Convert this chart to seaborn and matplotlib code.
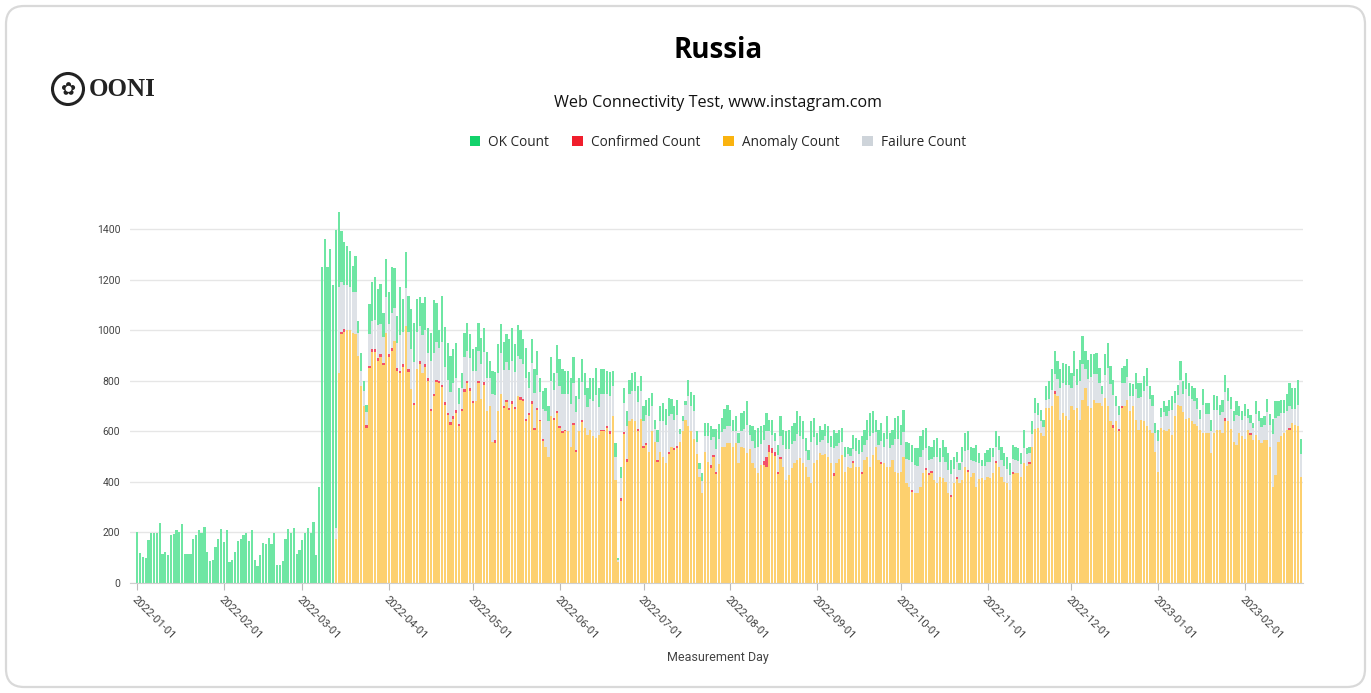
import numpy as np
import pandas as pd
import matplotlib
matplotlib.use("Agg")
import matplotlib.pyplot as plt
import matplotlib.transforms as mtransforms
from matplotlib.patches import FancyBboxPatch, Patch, Circle
import seaborn as sns

# ---------------- data ----------------
start_date = "2022-01-01"

ok_count = [
    200, 117, 103, 97, 172, 199, 199,
    196, 236, 114, 123, 110, 189, 192,
    209, 203, 233, 113, 113, 113, 176,
    189, 209, 196, 222, 123, 87, 93,
    143, 176, 212, 163, 209, 83, 90,
    123, 167, 176, 189, 196, 167, 209,
    93, 66, 110, 159, 156, 180, 154,
    196, 70, 70, 87, 176, 212, 196,
    216, 114, 132, 170, 199, 216, 196,
    242, 110, 379, 1250, 1360, 1250, 1320,
    1180, 1180, 300, 205, 170, 155, 145,
    105, 145, 45, 70, 40, 30, 120,
    155, 170, 143, 158, 98, 152, 125,
    180, 160, 107, 190, 128, 142, 141,
    157, 157, 128, 112, 128, 130, 100,
    110, 210, 155, 70, 180, 160, 147,
    144, 135, 137, 60, 60, 94, 110,
    95, 85, 95, 110, 102, 95, 105,
    70, 90, 89, 115, 115, 113, 110,
    122, 131, 108, 120, 114, 100, 120,
    62, 96, 92, 97, 54, 70, 90,
    60, 95, 67, 110, 105, 95, 93,
    90, 100, 102, 63, 80, 89, 87,
    73, 83, 90, 107, 73, 98, 98,
    90, 95, 58, 57, 7, 45, 60,
    60, 55, 70, 75, 60, 60, 57,
    62, 72, 52, 36, 48, 60, 72,
    66, 72, 60, 56, 62, 20, 20,
    13, 65, 55, 65, 40, 23, 30,
    53, 53, 53, 33, 79, 60, 55,
    80, 85, 65, 45, 60, 40, 70,
    70, 95, 40, 60, 70, 75, 70,
    60, 70, 45, 60, 30, 40, 80,
    60, 70, 75, 70, 70, 90, 80,
    70, 50, 40, 80, 75, 45, 60,
    40, 50, 65, 40, 70, 50, 50,
    55, 40, 30, 30, 55, 50, 55,
    60, 60, 80, 90, 85, 50, 60,
    70, 55, 90, 60, 60, 85, 90,
    80, 90, 70, 65, 70, 65, 70,
    80, 80, 80, 55, 50, 70, 75,
    55, 70, 60, 65, 55, 50, 40,
    25, 60, 70, 75, 55, 50, 70,
    40, 25, 50, 50, 55, 35, 60,
    55, 55, 50, 50, 45, 55, 55,
    50, 45, 70, 25, 25, 50, 60,
    50, 45, 30, 55, 70, 80, 90,
    70, 75, 80, 80, 75, 60, 100,
    60, 85, 110, 70, 75, 90, 80,
    85, 60, 30, 80, 100, 70, 60,
    40, 35, 60, 65, 70, 50, 45,
    65, 60, 55, 60, 70, 50, 45,
    40, 45, 35, 45, 40, 45, 55,
    45, 40, 75, 50, 65, 50, 50,
    50, 45, 35, 60, 45, 45, 45,
    60, 55, 40, 50, 70, 50, 45,
    40, 55, 40, 35, 50, 35, 30,
    20, 50, 40, 35, 35, 55, 45,
    60, 70, 60, 55, 55, 70, 90,
    80, 85, 100, 60,
]

anomaly_count = [
    0, 0, 0, 0, 0, 0, 0,
    0, 0, 0, 0, 0, 0, 0,
    0, 0, 0, 0, 0, 0, 0,
    0, 0, 0, 0, 0, 0, 0,
    0, 0, 0, 0, 0, 0, 0,
    0, 0, 0, 0, 0, 0, 0,
    0, 0, 0, 0, 0, 0, 0,
    0, 0, 0, 0, 0, 0, 0,
    0, 0, 0, 0, 0, 0, 0,
    0, 0, 0, 0, 0, 0, 0,
    0, 176, 830, 985, 995, 1000, 1000,
    990, 985, 900, 780, 700, 615, 850,
    915, 915, 880, 895, 862, 990, 895,
    920, 958, 840, 830, 855, 1017, 835,
    766, 703, 845, 868, 832, 855, 800,
    680, 740, 795, 790, 775, 705, 663,
    626, 650, 673, 620, 680, 756, 790,
    760, 712, 720, 790, 728, 785, 680,
    700, 560, 556, 680, 750, 692, 715,
    683, 709, 687, 740, 726, 720, 640,
    665, 709, 605, 683, 640, 563, 540,
    500, 660, 645, 672, 612, 592, 600,
    600, 540, 625, 520, 600, 638, 613,
    587, 607, 580, 573, 587, 600, 600,
    612, 590, 660, 408, 85, 325, 590,
    480, 640, 650, 640, 600, 650, 535,
    545, 520, 600, 560, 480, 520, 500,
    474, 512, 540, 527, 535, 560, 600,
    646, 620, 600, 570, 510, 421, 355,
    520, 480, 455, 497, 431, 470, 540,
    540, 555, 555, 540, 553, 474, 540,
    533, 514, 530, 474, 454, 434, 467,
    466, 460, 517, 513, 502, 431, 490,
    461, 408, 428, 454, 474, 487, 494,
    474, 461, 421, 395, 474, 485, 514,
    505, 510, 500, 475, 424, 475, 490,
    507, 440, 460, 455, 473, 460, 461,
    433, 487, 500, 461, 507, 540, 487,
    469, 474, 461, 461, 487, 441, 434,
    441, 500, 395, 381, 360, 355, 355,
    381, 434, 446, 426, 437, 408, 395,
    421, 415, 401, 355, 340, 395, 410,
    395, 408, 461, 440, 421, 434, 381,
    410, 415, 408, 421, 415, 435, 473,
    461, 421, 401, 395, 368, 433, 437,
    437, 421, 474, 465, 470, 540, 610,
    615, 595, 580, 693, 693, 699, 749,
    739, 646, 673, 660, 646, 699, 686,
    693, 646, 726, 771, 699, 693, 726,
    712, 712, 700, 733, 699, 640, 615,
    640, 600, 692, 699, 726, 680, 700,
    646, 606, 646, 643, 622, 606, 593,
    520, 441, 612, 606, 600, 610, 585,
    660, 705, 700, 675, 648, 652, 640,
    630, 620, 606, 593, 593, 593, 514,
    593, 606, 606, 593, 643, 640, 610,
    560, 545, 593, 580, 570, 606, 587,
    565, 587, 567, 553, 567, 567, 540,
    381, 428, 560, 580, 593, 606, 605,
    633, 625, 620, 420,
]

confirmed_count = [
    0, 0, 0, 0, 0, 0, 0,
    0, 0, 0, 0, 0, 0, 0,
    0, 0, 0, 0, 0, 0, 0,
    0, 0, 0, 0, 0, 0, 0,
    0, 0, 0, 0, 0, 0, 0,
    0, 0, 0, 0, 0, 0, 0,
    0, 0, 0, 0, 0, 0, 0,
    0, 0, 0, 0, 0, 0, 0,
    0, 0, 0, 0, 0, 0, 0,
    0, 0, 0, 0, 0, 0, 0,
    0, 0, 0, 10, 10, 0, 0,
    0, 0, 0, 0, 0, 10, 10,
    10, 10, 10, 10, 10, 0, 10,
    10, 0, 10, 10, 10, 0, 10,
    0, 10, 0, 10, 0, 10, 10,
    10, 10, 10, 10, 10, 10, 10,
    10, 10, 10, 10, 10, 10, 10,
    10, 8, 0, 10, 0, 10, 0,
    0, 0, 10, 0, 0, 10, 10,
    10, 10, 10, 0, 10, 10, 10,
    8, 10, 8, 10, 6, 7, 0,
    0, 0, 8, 8, 8, 8, 7,
    0, 0, 8, 7, 0, 8, 0,
    0, 0, 0, 0, 0, 7, 7,
    8, 10, 0, 0, 0, 10, 8,
    10, 0, 0, 0, 8, 0, 8,
    8, 0, 0, 0, 8, 0, 0,
    0, 8, 0, 7, 8, 0, 0,
    0, 0, 0, 0, 0, 0, 0,
    0, 0, 12, 10, 10, 0, 0,
    0, 0, 0, 0, 0, 0, 0,
    0, 0, 0, 0, 0, 0, 0,
    15, 40, 30, 20, 15, 10, 10,
    0, 0, 0, 0, 0, 0, 0,
    0, 0, 0, 0, 0, 0, 0,
    0, 0, 0, 0, 10, 0, 0,
    0, 0, 0, 0, 8, 0, 0,
    8, 0, 0, 0, 0, 0, 0,
    8, 0, 0, 0, 0, 0, 0,
    0, 0, 0, 0, 8, 0, 0,
    0, 0, 8, 8, 8, 0, 0,
    0, 0, 0, 0, 8, 0, 8,
    0, 0, 0, 8, 0, 0, 0,
    0, 0, 0, 0, 0, 0, 8,
    0, 0, 0, 0, 0, 8, 0,
    0, 0, 0, 0, 8, 0, 0,
    0, 0, 0, 0, 0, 0, 10,
    0, 0, 0, 0, 0, 0, 0,
    0, 0, 0, 0, 0, 0, 0,
    0, 0, 0, 0, 0, 0, 10,
    0, 8, 8, 0, 0, 0, 0,
    0, 0, 0, 0, 0, 0, 0,
    0, 0, 0, 0, 0, 0, 0,
    0, 0, 0, 0, 0, 0, 0,
    0, 0, 0, 0, 0, 0, 0,
    0, 0, 0, 0, 10, 0, 0,
    0, 0, 0, 0, 0, 0, 8,
    0, 0, 0, 0, 0, 0, 0,
    0, 0, 0, 0, 0, 0, 8,
    0, 0, 0, 0,
]

failure_count = [
    0, 0, 0, 0, 0, 0, 0,
    0, 0, 0, 0, 0, 0, 0,
    0, 0, 0, 0, 0, 0, 0,
    0, 0, 0, 0, 0, 0, 0,
    0, 0, 0, 0, 0, 0, 0,
    0, 0, 0, 0, 0, 0, 0,
    0, 0, 0, 0, 0, 0, 0,
    0, 0, 0, 0, 0, 0, 0,
    0, 0, 0, 0, 0, 0, 0,
    0, 0, 0, 0, 0, 0, 0,
    0, 40, 340, 195, 175, 180, 170,
    160, 165, 90, 60, 60, 50, 125,
    110, 115, 130, 120, 100, 140, 120,
    140, 130, 100, 140, 130, 150, 150,
    160, 160, 150, 140, 150, 135, 100,
    190, 160, 150, 130, 170, 140, 130,
    120, 130, 130, 80, 80, 130, 120,
    120, 120, 120, 120, 140, 120, 130,
    110, 190, 180, 150, 160, 140, 150,
    150, 160, 140, 160, 150, 135, 160,
    100, 150, 140, 130, 110, 120, 140,
    140, 140, 110, 150, 160, 150, 140,
    150, 170, 160, 150, 130, 150, 130,
    110, 120, 140, 170, 110, 140, 140,
    130, 140, 120, 90, 5, 80, 115,
    130, 110, 110, 120, 110, 110, 100,
    110, 140, 100, 50, 70, 120, 140,
    150, 140, 130, 110, 120, 30, 40,
    60, 120, 100, 110, 50, 30, 50,
    60, 100, 100, 70, 90, 100, 58,
    69, 65, 66, 61, 47, 79, 63,
    76, 110, 56, 88, 82, 104, 85,
    85, 103, 54, 53, 46, 66, 82,
    85, 122, 103, 96, 89, 102, 86,
    96, 63, 66, 165, 104, 63, 46,
    61, 70, 55, 65, 102, 68, 66,
    51, 60, 50, 48, 51, 63, 51,
    79, 59, 66, 122, 87, 56, 59,
    86, 64, 108, 72, 59, 127, 136,
    105, 96, 95, 107, 109, 113, 109,
    119, 92, 79, 54, 45, 89, 103,
    58, 82, 79, 94, 84, 55, 62,
    54, 72, 62, 77, 64, 50, 96,
    64, 47, 56, 56, 64, 64, 59,
    64, 64, 63, 55, 61, 51, 48,
    47, 48, 62, 44, 37, 50, 63,
    48, 46, 36, 31, 36, 66, 69,
    69, 124, 118, 125, 137, 73, 132,
    92, 153, 141, 77, 110, 122, 102,
    114, 79, 49, 92, 152, 148, 120,
    60, 57, 91, 94, 89, 62, 41,
    121, 126, 89, 116, 159, 123, 108,
    73, 120, 46, 69, 60, 71, 99,
    54, 40, 103, 74, 119, 90, 89,
    92, 68, 45, 113, 75, 74, 87,
    93, 79, 60, 83, 102, 80, 80,
    80, 119, 66, 65, 90, 49, 40,
    48, 83, 73, 65, 58, 108, 85,
    209, 224, 100, 91, 78, 74, 87,
    57, 62, 85, 90,
]

tick_labels = [
    "2022-01-01", "2022-02-01", "2022-03-01", "2022-04-01", "2022-05-01",
    "2022-06-01", "2022-07-01", "2022-08-01", "2022-09-01", "2022-10-01",
    "2022-11-01", "2022-12-01", "2023-01-01", "2023-02-01",
]
y_ticks = [0, 200, 400, 600, 800, 1000, 1200, 1400]

series_names = ["OK Count", "Confirmed Count", "Anomaly Count", "Failure Count"]

# ---------------- styling ----------------
bar_colors = {
    "OK Count": "#6ee6a3",
    "Confirmed Count": "#f4506a",
    "Anomaly Count": "#fdd06e",
    "Failure Count": "#dee2e7",
}
legend_colors = {
    "OK Count": "#12d26b",
    "Confirmed Count": "#f01e2c",
    "Anomaly Count": "#fab30f",
    "Failure Count": "#ced4da",
}

sns.set_theme(style="white")
plt.rcParams["font.family"] = ["Open Sans", "DejaVu Sans"]

n = len(ok_count)
day_index = np.arange(n)
wide = pd.DataFrame({
    "day": day_index,
    "OK Count": ok_count,
    "Confirmed Count": confirmed_count,
    "Anomaly Count": anomaly_count,
    "Failure Count": failure_count,
})
long = wide.melt(id_vars="day", var_name="kind", value_name="count")

W, H = 1371, 693
fig = plt.figure(figsize=(W / 100, H / 100), dpi=100)
fig.patch.set_facecolor("white")

# card border
card = FancyBboxPatch((6, 6), W - 12, H - 12,
                      boxstyle="round,pad=0,rounding_size=18",
                      transform=mtransforms.IdentityTransform(),
                      facecolor="white", edgecolor="#d9d9d9", linewidth=1.6,
                      zorder=-10)
fig.patches.append(card)

ax_left, ax_right = 130, 1303
ax_bottom, ax_top = 583, 204
ax = fig.add_axes([ax_left / W, 1 - ax_bottom / H,
                   (ax_right - ax_left) / W, (ax_bottom - ax_top) / H])
ax.set_facecolor("none")

# stacked bars: last hue level sits at the bottom of the stack
sns.histplot(
    data=long, x="day", weights="count", hue="kind",
    hue_order=["OK Count", "Failure Count", "Confirmed Count", "Anomaly Count"],
    multiple="stack", discrete=True, shrink=0.8, palette=bar_colors,
    element="bars", alpha=1, linewidth=0, legend=False, ax=ax,
)

ax.set_xlim(-2.6, n - 0.2)
ax.set_ylim(0, 1500)
ax.set_yticks(y_ticks)
ax.set_yticklabels([str(v) for v in y_ticks], fontsize=7.5, color="#444444",
                   family=["Roboto", "DejaVu Sans"])
tick_pos = [(pd.Timestamp(t) - pd.Timestamp(start_date)).days for t in tick_labels]
ax.set_xticks(tick_pos)
ax.set_xticklabels(tick_labels, rotation=-45, ha="left", va="top",
                   rotation_mode="anchor", fontsize=8, color="#444444",
                   family=["Roboto", "DejaVu Sans"])
ax.tick_params(axis="x", length=5, width=0.8, color="#bbbbbb", pad=3, bottom=True)
ax.tick_params(axis="y", length=0, pad=7)
ax.grid(axis="y", color="#e6e6e6", linewidth=1)
ax.grid(axis="x", visible=False)
ax.set_axisbelow(True)
for s in ["top", "right", "left"]:
    ax.spines[s].set_visible(False)
ax.spines["bottom"].set_color("#cfcfcf")
ax.spines["bottom"].set_linewidth(0.8)
ax.set_ylabel("")
ax.set_xlabel("")

fig.text(718 / W, 1 - 658 / H, "Measurement Day", ha="center", va="center",
         fontsize=9, color="#444444", family=["Roboto", "DejaVu Sans"])

# titles
fig.text(718 / W, 1 - 50 / H, "Russia", ha="center", va="center",
         fontsize=20, fontweight="bold", color="#000000")
fig.text(718 / W, 1 - 103 / H, "Web Connectivity Test, www.instagram.com",
         ha="center", va="center", fontsize=11.6, color="#111111")

# legend
handles = [Patch(facecolor=legend_colors[k], edgecolor="none", label=k)
           for k in series_names]
fig.legend(handles=handles, loc="center", ncol=4,
           bbox_to_anchor=(718 / W, 1 - 142 / H), frameon=False,
           fontsize=9.8, handlelength=0.75, handleheight=0.75,
           handletextpad=0.6, columnspacing=1.7)

# OONI logo
logo_ax = fig.add_axes([0, 0, 1, 1], facecolor="none")
logo_ax.set_xlim(0, W)
logo_ax.set_ylim(H, 0)
logo_ax.axis("off")
logo_ax.add_patch(Circle((68, 89), 15.5, fill=False, edgecolor="#222222", linewidth=2.2))
logo_ax.text(68, 90, "\u273f", ha="center", va="center", fontsize=13,
             color="#222222", family=["DejaVu Sans"])
logo_ax.text(89, 90, "OONI", ha="left", va="center", fontsize=18,
             fontweight="bold", color="#222222",
             family=["Liberation Serif", "DejaVu Serif"])

fig.savefig("out.png", dpi=100, facecolor="white")
